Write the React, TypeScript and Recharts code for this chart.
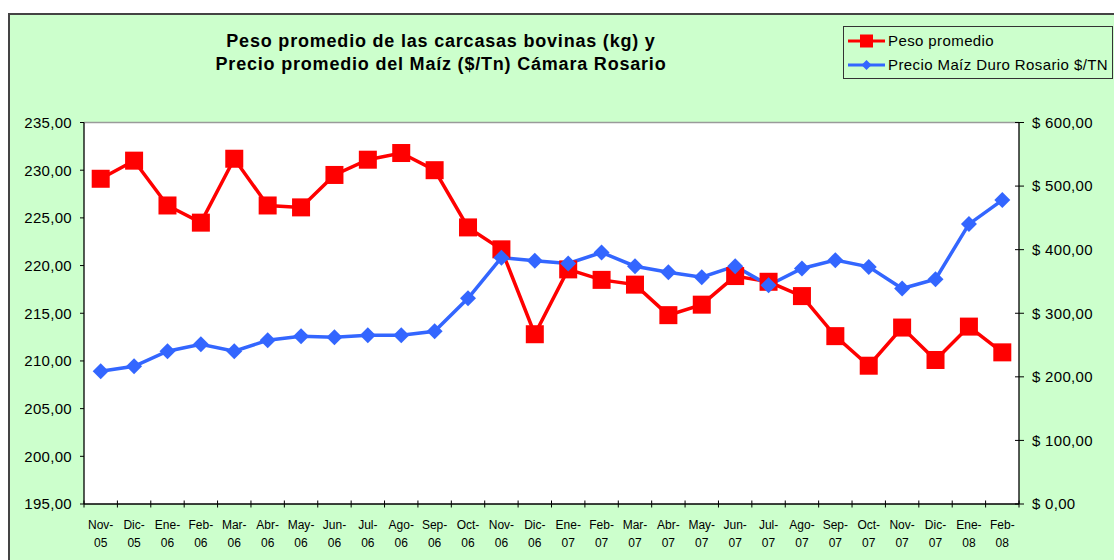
import { LineChart, Line, XAxis, YAxis, Legend, CartesianGrid, ReferenceLine } from 'recharts'

const MESES = [
  'Nov-05', 'Dic-05', 'Ene-06', 'Feb-06', 'Mar-06', 'Abr-06', 'May-06', 'Jun-06',
  'Jul-06', 'Ago-06', 'Sep-06', 'Oct-06', 'Nov-06', 'Dic-06', 'Ene-07', 'Feb-07',
  'Mar-07', 'Abr-07', 'May-07', 'Jun-07', 'Jul-07', 'Ago-07', 'Sep-07', 'Oct-07',
  'Nov-07', 'Dic-07', 'Ene-08', 'Feb-08',
]

// kg
const PESO = [
  229.1, 231.0, 226.3, 224.5, 231.2, 226.3, 226.1, 229.5,
  231.1, 231.8, 230.0, 224.0, 221.7, 212.8, 219.6, 218.5,
  218.0, 214.8, 215.9, 218.9, 218.3, 216.8, 212.6, 209.5,
  213.5, 210.1, 213.6, 210.9,
]

// $/Tn
const MAIZ = [
  208.7, 216.5, 240.2, 251.2, 240.2, 257.5, 263.8, 262.2,
  265.4, 265.4, 271.7, 323.6, 387.4, 382.7, 378.3, 395.6,
  374.0, 364.6, 356.7, 374.0, 344.1, 370.4, 383.5, 372.9,
  338.9, 353.5, 440.2, 478.0,
]

const PESO_TICKS = [195, 200, 205, 210, 215, 220, 225, 230, 235]
const MAIZ_TICKS = [0, 100, 200, 300, 400, 500, 600]

const FONT = 'Arial, "Liberation Sans", sans-serif'
const RED = '#FF0000'
const BLUE = '#3366FF'
const BAND = 935 / MESES.length

const data = MESES.map((mes, i) => ({ mes, peso: PESO[i], maiz: MAIZ[i] }))

const coma = (v: number) => v.toFixed(2).replace('.', ',')

function MesTick({ x, y, payload, index }: any) {
  const [a, b] = String(payload.value).split('-')
  const left = x - BAND / 2
  const right = x + BAND / 2
  return (
    <g>
      <line x1={left} x2={left} y1={y - 3.5} y2={y + 3.5} stroke="#000" />
      {index === MESES.length - 1 && (
        <line x1={right} x2={right} y1={y - 3.5} y2={y + 3.5} stroke="#000" />
      )}
      <text x={x} y={y + 24.5} textAnchor="middle" fontSize={12} fill="#000" fontFamily={FONT}>
        <tspan x={x}>{a}-</tspan>
        <tspan x={x} dy={18.5}>{b}</tspan>
      </text>
    </g>
  )
}

function PesoTick({ x, y, payload }: any) {
  return (
    <g>
      <line x1={x - 4} x2={x} y1={y} y2={y} stroke="#000" />
      <text x={x - 12} y={y} dy="0.36em" textAnchor="end" fontSize={15} letterSpacing={0.3} fill="#000" fontFamily={FONT}>
        {coma(payload.value)}
      </text>
    </g>
  )
}

function MaizTick({ x, y, payload }: any) {
  return (
    <g>
      <line x1={x - 4} x2={x + 5} y1={y} y2={y} stroke="#000" />
      <text x={x + 13} y={y} dy="0.36em" textAnchor="start" fontSize={15} letterSpacing={0.3} fill="#000" fontFamily={FONT}>
        {'$ ' + coma(payload.value)}
      </text>
    </g>
  )
}

const Cuadrado = ({ cx, cy, index }: any) => (
  <rect key={'c' + index} x={cx - 9} y={cy - 9} width={18} height={18} fill={RED} />
)

const Rombo = ({ cx, cy, index }: any) => (
  <path key={'r' + index} d={`M${cx},${cy - 8}L${cx + 8},${cy}L${cx},${cy + 8}L${cx - 8},${cy}Z`} fill={BLUE} />
)

function Leyenda({ payload }: any) {
  return (
    <div style={{ position: 'relative', width: 270, height: 53, boxSizing: 'border-box', border: '1px solid #333', background: '#CCFFCC', fontFamily: FONT }}>
      {(payload || []).map((p: any, i: number) => (
        <div key={p.value} style={{ position: 'absolute', left: 0, top: 4 + i * 24, height: 20, width: 268 }}>
          <svg width={42} height={20} style={{ position: 'absolute', left: 3, top: 0 }}>
            <line x1={1} x2={38} y1={10} y2={10} stroke={p.color} strokeWidth={3} />
            {i === 0 ? (
              <rect x={13} y={3.5} width={13} height={13} fill={p.color} />
            ) : (
              <path d="M19.5,5L24.5,10L19.5,15L14.5,10Z" fill={p.color} />
            )}
          </svg>
          <span style={{ position: 'absolute', left: 44, top: 0, lineHeight: '20px', fontSize: 15, letterSpacing: 0.4, color: '#000', whiteSpace: 'nowrap' }}>
            {p.value}
          </span>
        </div>
      ))}
    </div>
  )
}

export default function App() {
  return (
    <>
      <style>{'body{overflow:hidden}'}</style>
      <div
        style={{
          position: 'absolute', left: 8, top: 13, width: 1108, height: 549,
          boxSizing: 'border-box', background: '#CCFFCC',
          borderLeft: '2px solid #444', borderTop: '2px solid #444',
        }}
      >
        <div
          style={{
            position: 'absolute', left: 0, top: 14.5, width: 862, textAlign: 'center',
            fontFamily: FONT, fontWeight: 'bold', fontSize: 18, lineHeight: '23px',
            letterSpacing: 0.8, color: '#000',
          }}
        >
          Peso promedio de las carcasas bovinas (kg) y<br />
          Precio promedio del Maíz ($/Tn) Cámara Rosario
        </div>
        <LineChart
          width={1106}
          height={545}
          data={data}
          margin={{ top: 107.5, right: 0, bottom: 0, left: 0 }}
        >
          <CartesianGrid yAxisId="peso" horizontal={false} vertical={false} fill="#FFFFFF" />
          <XAxis
            dataKey="mes"
            scale="band"
            interval={0}
            height={56}
            tickSize={0}
            tickMargin={0}
            tickLine={false}
            axisLine={{ stroke: '#000', strokeWidth: 1.3 }}
            tick={MesTick}
          />
          <YAxis
            yAxisId="peso"
            orientation="left"
            width={74}
            domain={[195, 235]}
            ticks={PESO_TICKS}
            interval={0}
            tickSize={0}
            tickMargin={0}
            tickLine={false}
            axisLine={{ stroke: '#000', strokeWidth: 1.3 }}
            tick={PesoTick}
          />
          <YAxis
            yAxisId="maiz"
            orientation="right"
            width={97}
            domain={[0, 600]}
            ticks={MAIZ_TICKS}
            interval={0}
            tickSize={0}
            tickMargin={0}
            tickLine={false}
            axisLine={{ stroke: '#000', strokeWidth: 1.3 }}
            tick={MaizTick}
          />
          <ReferenceLine yAxisId="peso" y={235} stroke="#9a9a9a" strokeWidth={1.5} />
          <Legend
            layout="vertical"
            align="center"
            verticalAlign="middle"
            wrapperStyle={{ left: 833, top: 11, width: 270, height: 53 }}
            content={Leyenda}
          />
          <Line
            yAxisId="peso"
            dataKey="peso"
            name="Peso promedio"
            stroke={RED}
            strokeWidth={3.5}
            dot={Cuadrado}
            activeDot={false}
            isAnimationActive={false}
          />
          <Line
            yAxisId="maiz"
            dataKey="maiz"
            name="Precio Maíz Duro Rosario $/TN"
            stroke={BLUE}
            strokeWidth={3.5}
            dot={Rombo}
            activeDot={false}
            isAnimationActive={false}
          />
        </LineChart>
      </div>
    </>
  )
}
